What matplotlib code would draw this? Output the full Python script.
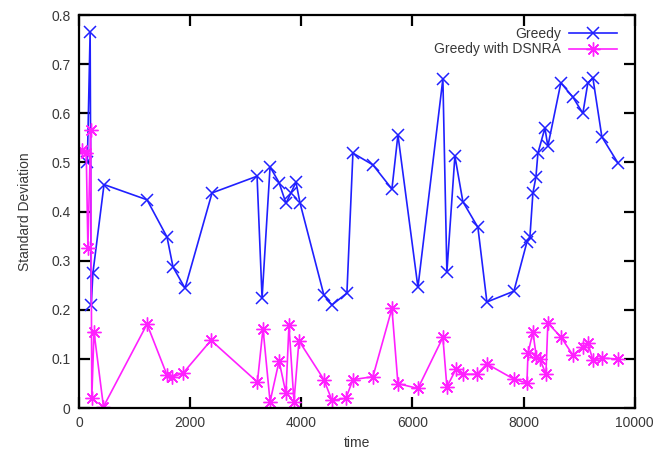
import matplotlib
matplotlib.use("Agg")
from matplotlib import pyplot as plt

plt.rcParams['font.family'] = ['Liberation Sans', 'DejaVu Sans']

# Greedy
greedy_t = [150, 200, 220, 250, 450, 1224, 1584, 1692, 1908, 2394,
            3204, 3294, 3438, 3600, 3724, 3814, 3904, 3976, 4407, 4551,
            4821, 4929, 5289, 5631, 5739, 6099, 6548, 6620, 6764, 6908,
            7178, 7340, 7826, 8060, 8114, 8168, 8222, 8258, 8384, 8437,
            8671, 8887, 9067, 9157, 9247, 9409, 9697]
greedy_sd = [0.50, 0.766, 0.21, 0.275, 0.455, 0.424, 0.348, 0.287, 0.244, 0.438,
             0.472, 0.224, 0.491, 0.459, 0.417, 0.438, 0.460, 0.418, 0.230, 0.210,
             0.234, 0.519, 0.495, 0.446, 0.556, 0.246, 0.670, 0.277, 0.513, 0.420,
             0.368, 0.216, 0.238, 0.338, 0.348, 0.438, 0.470, 0.519, 0.570, 0.533,
             0.662, 0.633, 0.600, 0.662, 0.672, 0.552, 0.499]

# Greedy with DSNRA
dsnra_t = [50, 130, 160, 210, 230, 270, 440, 1224, 1584, 1673,
           1871, 2375, 3210, 3311, 3438, 3600, 3724, 3778, 3868, 3958,
           4407, 4551, 4803, 4929, 5289, 5631, 5739, 6099, 6548, 6620,
           6782, 6908, 7160, 7340, 7826, 8060, 8080, 8168, 8230, 8294,
           8402, 8437, 8671, 8887, 9067, 9157, 9247, 9409, 9697]
dsnra_sd = [0.525, 0.52, 0.326, 0.567, 0.020, 0.155, 0.003, 0.171, 0.067, 0.063,
            0.071, 0.138, 0.053, 0.162, 0.013, 0.096, 0.030, 0.169, 0.013, 0.137,
            0.058, 0.016, 0.020, 0.058, 0.064, 0.203, 0.050, 0.040, 0.144, 0.043,
            0.079, 0.069, 0.069, 0.090, 0.059, 0.051, 0.112, 0.155, 0.104, 0.100,
            0.069, 0.173, 0.145, 0.108, 0.124, 0.132, 0.098, 0.102, 0.100]

xticks = [0, 2000, 4000, 6000, 8000, 10000]
yticks = [0, 0.1, 0.2, 0.3, 0.4, 0.5, 0.6, 0.7, 0.8]

fig = plt.figure(figsize=(6.53, 4.55), dpi=100)
ax = fig.add_axes([0.121, 0.103, 0.851, 0.864])

ax.plot(greedy_t, greedy_sd, color='#2020ff', lw=1.2, marker='x',
        markersize=9, mew=1.1, label='Greedy')
ax.plot(dsnra_t, dsnra_sd, color='#ff20ff', lw=1.2, marker=(8, 2, 0),
        markersize=10, mew=1.0, label='Greedy with DSNRA')

ax.set_xlim(0, 10000)
ax.set_ylim(0, 0.8)
ax.set_xticks(xticks)
ax.set_yticks(yticks)
ax.set_yticklabels(['0', '0.1', '0.2', '0.3', '0.4', '0.5', '0.6', '0.7', '0.8'])
ax.tick_params(direction='in', length=8, width=1.6, top=True, right=True,
               labelsize=10, labelcolor='#383838', pad=6)
for s in ax.spines.values():
    s.set_linewidth(1.6)

ax.set_xlabel('time', fontsize=10, color='#383838')
ax.set_ylabel('Standard Deviation', fontsize=10, color='#383838', labelpad=14)

leg = ax.legend(loc='upper right', bbox_to_anchor=(0.98, 0.987), frameon=False,
                markerfirst=False, handlelength=3.4, labelspacing=0.1,
                borderpad=0, handletextpad=0.6, fontsize=10)
for t in leg.get_texts():
    t.set_color('#383838')

fig.savefig('out.png', dpi=100)
